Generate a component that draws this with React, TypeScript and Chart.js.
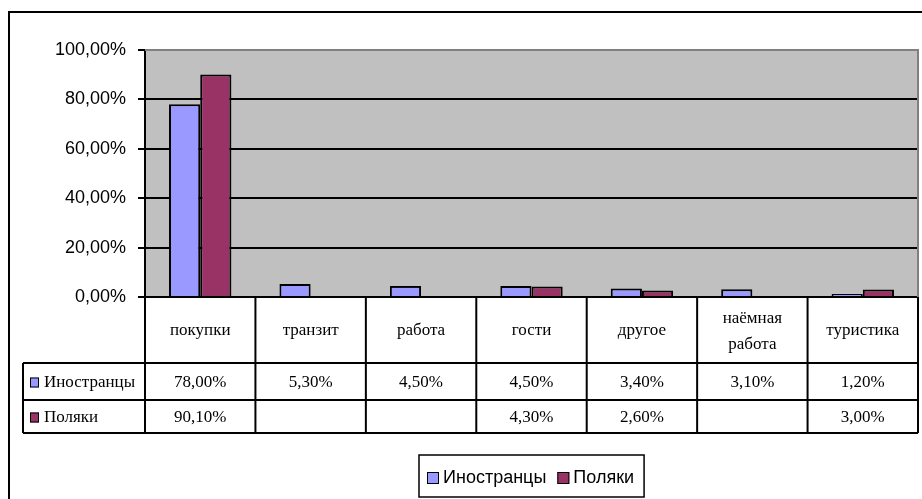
import React, { useEffect, useRef } from 'react';
import { Chart, registerables } from 'chart.js';

Chart.register(...registerables);

// ---- data ----
const categories: string[][] = [
  ['покупки'],
  ['транзит'],
  ['работа'],
  ['гости'],
  ['другое'],
  ['наёмная', 'работа'],
  ['туристика'],
];
const seriesNames = ['Иностранцы', 'Поляки'];
const foreigners: (number | null)[] = [78.0, 5.3, 4.5, 4.5, 3.4, 3.1, 1.2];
const poles: (number | null)[] = [90.1, null, null, 4.3, 2.6, null, 3.0];
const yTickValues = [0, 20, 40, 60, 80, 100];
const seriesColors = ['#9999FF', '#993366'];

const fmtPct = (v: number) => v.toFixed(2).replace('.', ',') + '%';

const SANS = '"Liberation Sans", Arial, sans-serif';
const SERIF = '"Liberation Serif", "Times New Roman", serif';

const excelPlugin = {
  id: 'excelTable',
  beforeDraw(chart: any) {
    const { ctx, chartArea: a } = chart;
    ctx.save();
    ctx.fillStyle = '#ffffff';
    ctx.fillRect(0, 0, chart.width, chart.height);
    ctx.fillStyle = '#C0C0C0';
    ctx.fillRect(a.left, a.top, a.right - a.left, a.bottom - a.top);
    ctx.restore();
  },
  afterDraw(chart: any) {
    const { ctx, chartArea: a } = chart;
    const xScale = chart.scales.x;
    const n = categories.length;
    const colW = (a.right - a.left) / n;
    const xs: number[] = [];
    for (let i = 0; i < n; i++) xs.push(xScale.getPixelForValue(i) - colW / 2);
    xs.push(xScale.getPixelForValue(n - 1) + colW / 2);

    ctx.save();
    // plot area border (gray) top & right
    ctx.strokeStyle = '#808080';
    ctx.lineWidth = 2;
    ctx.beginPath();
    ctx.moveTo(a.left, a.top);
    ctx.lineTo(a.right, a.top);
    ctx.lineTo(a.right, a.bottom);
    ctx.stroke();

    // outer chart frame
    ctx.strokeStyle = '#000';
    ctx.lineWidth = 2;
    ctx.strokeRect(9, 12, chart.width + 10, chart.height + 10);

    // table
    const y0 = a.bottom;
    const y1 = y0 + 66;
    const y2 = y1 + 37;
    const y3 = y2 + 33;
    const tLeft = 23;

    ctx.strokeStyle = '#000';
    ctx.lineWidth = 2;
    ctx.beginPath();
    for (const y of [y1, y2, y3]) {
      ctx.moveTo(tLeft, y);
      ctx.lineTo(xs[n], y);
    }
    ctx.moveTo(tLeft, y1);
    ctx.lineTo(tLeft, y3);
    for (const x of xs) {
      ctx.moveTo(x, y0);
      ctx.lineTo(x, y3);
    }
    ctx.stroke();

    ctx.fillStyle = '#000';
    ctx.font = `17px ${SERIF}`;
    ctx.textAlign = 'center';
    ctx.textBaseline = 'middle';
    categories.forEach((lines, i) => {
      const cx = (xs[i] + xs[i + 1]) / 2;
      const cy = (y0 + y1) / 2 + 1;
      if (lines.length === 1) {
        ctx.fillText(lines[0], cx, cy);
      } else {
        ctx.fillText(lines[0], cx, cy - 12);
        ctx.fillText(lines[1], cx, cy + 14);
      }
    });

    const rows = [
      { name: seriesNames[0], data: foreigners, color: seriesColors[0], top: y1, bot: y2 },
      { name: seriesNames[1], data: poles, color: seriesColors[1], top: y2, bot: y3 },
    ];
    rows.forEach((r) => {
      const cy = (r.top + r.bot) / 2 + 1;
      ctx.fillStyle = r.color;
      ctx.fillRect(30, cy - 5, 9, 10);
      ctx.strokeStyle = '#000';
      ctx.lineWidth = 1;
      ctx.strokeRect(30.5, cy - 4.5, 8, 9);
      ctx.fillStyle = '#000';
      ctx.textAlign = 'left';
      ctx.fillText(r.name, 44, cy);
      ctx.textAlign = 'center';
      r.data.forEach((v, i) => {
        if (v == null) return;
        ctx.fillText(fmtPct(v), (xs[i] + xs[i + 1]) / 2, cy);
      });
    });

    // legend
    ctx.font = `18px ${SANS}`;
    const pad = 8;
    const sw = 12;
    const gapS = 4;
    const gapItems = 11;
    const widths = seriesNames.map((s) => ctx.measureText(s).width);
    const boxW = pad + sw + gapS + widths[0] + gapItems + sw + gapS + widths[1] + 10;
    const boxH = 42;
    const boxL = Math.round((a.left + a.right) / 2 - boxW / 2);
    const boxT = y3 + 22;
    ctx.strokeStyle = '#000';
    ctx.lineWidth = 1.5;
    ctx.strokeRect(boxL, boxT, boxW, boxH);
    let x = boxL + pad;
    const ly = boxT + boxH / 2 + 2;
    seriesNames.forEach((s, i) => {
      ctx.fillStyle = seriesColors[i];
      ctx.fillRect(x, ly - 6, sw, sw);
      ctx.strokeStyle = '#000';
      ctx.lineWidth = 1;
      ctx.strokeRect(x + 0.5, ly - 5.5, sw - 1, sw - 1);
      x += sw + gapS;
      ctx.fillStyle = '#000';
      ctx.textAlign = 'left';
      ctx.textBaseline = 'middle';
      ctx.fillText(s, x, ly);
      x += widths[i] + gapItems;
    });
    ctx.restore();
  },
};

export default function App() {
  const canvasRef = useRef<HTMLCanvasElement | null>(null);

  useEffect(() => {
    document.body.style.margin = '0';
    const canvas = canvasRef.current;
    if (!canvas) return;
    const chart = new Chart(canvas, {
      type: 'bar',
      data: {
        labels: categories.map((c) => c.join(' ')),
        datasets: [
          {
            label: seriesNames[0],
            data: foreigners,
            backgroundColor: seriesColors[0],
            borderColor: '#000',
            borderWidth: 2,
          },
          {
            label: seriesNames[1],
            data: poles,
            backgroundColor: seriesColors[1],
            borderColor: '#000',
            borderWidth: 2,
          },
        ],
      },
      options: {
        responsive: false,
        animation: false,
        devicePixelRatio: 1,
        layout: { padding: { left: 0, right: 4, top: 50, bottom: 202 } },
        datasets: {
          bar: { categoryPercentage: 0.565, barPercentage: 1.0 },
        },
        plugins: {
          legend: { display: false },
          tooltip: { enabled: false },
          title: { display: false },
        },
        scales: {
          x: {
            display: false,
            grid: { display: false },
          },
          y: {
            min: 0,
            max: 100,
            afterFit: (s: any) => {
              s.width = 145;
            },
            afterBuildTicks: (s: any) => {
              s.ticks = yTickValues.map((v) => ({ value: v }));
            },
            ticks: {
              padding: 12,
              color: '#000',
              font: { family: SANS, size: 18 },
              callback: (v: any) => fmtPct(Number(v)),
            },
            grid: {
              color: (c: any) => (c.tick && c.tick.value === 100 ? 'rgba(0,0,0,0)' : '#000'),
              tickColor: '#000',
              tickLength: 7,
              lineWidth: 2,
            },
            border: { display: true, color: '#000', width: 2 },
          },
        },
      },
      plugins: [excelPlugin],
    });
    return () => chart.destroy();
  }, []);

  return (
    <div style={{ position: 'fixed', left: 0, top: 0, width: 922, height: 499 }}>
      <canvas ref={canvasRef} width={922} height={499} />
    </div>
  );
}
